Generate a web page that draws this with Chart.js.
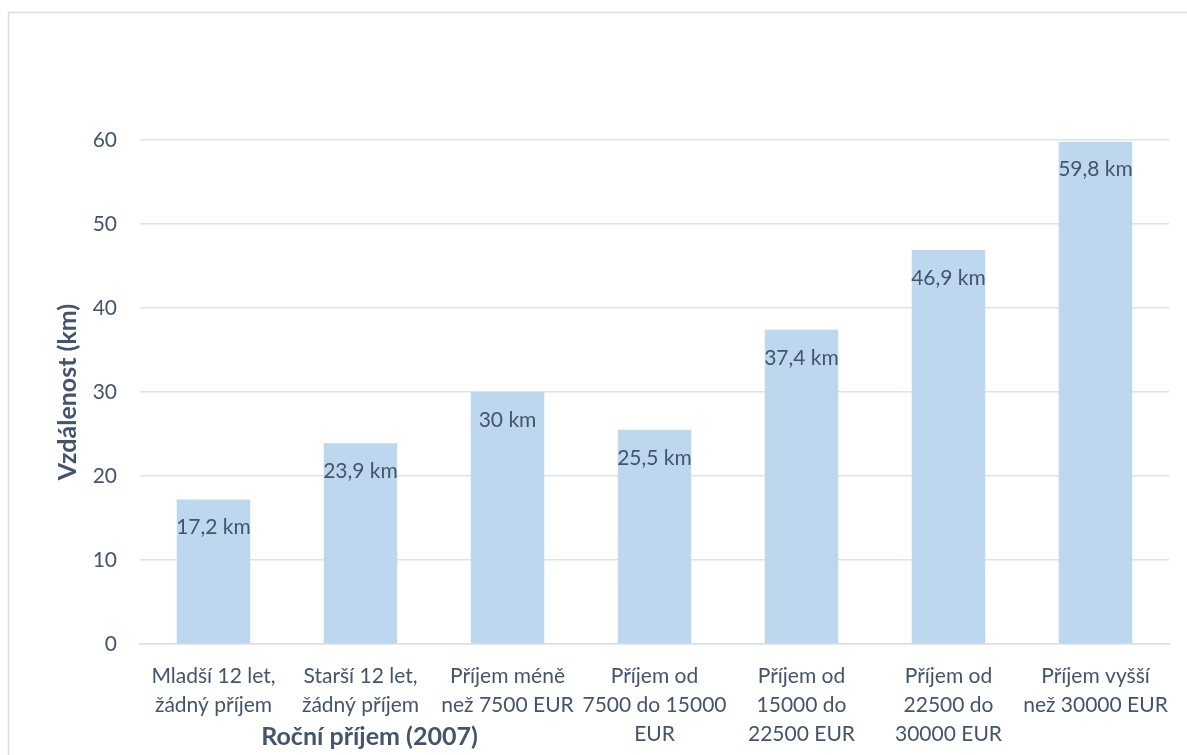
<!DOCTYPE html>
<html>
<head>
<meta charset="utf-8">
<script src="https://cdn.jsdelivr.net/npm/chart.js@4"></script>
<style>
  html, body { margin: 0; padding: 0; background: #fff; }
  canvas { display: block; }
</style>
</head>
<body>
<canvas id="chart" width="1187" height="755"></canvas>
<script>
const categories = [
    ['Mladší 12 let,', 'žádný příjem'],
    ['Starší 12 let,', 'žádný příjem'],
    ['Příjem méně', 'než 7500 EUR'],
    ['Příjem od', '7500 do 15000', 'EUR'],
    ['Příjem od', '15000 do', '22500 EUR'],
    ['Příjem od', '22500 do', '30000 EUR'],
    ['Příjem vyšší', 'než 30000 EUR']
];
const distances = [17.2, 23.9, 30, 25.5, 37.4, 46.9, 59.8];
const yTicks = [0, 10, 20, 30, 40, 50, 60];

const textColor = '#44546a';
const fontFamily = 'Lato, "Open Sans", sans-serif';

// frame around the whole chart
const framePlugin = {
    id: 'frame',
    beforeDraw(chart) {
        const c = chart.ctx;
        c.save();
        c.strokeStyle = '#d9dde3';
        c.lineWidth = 1.5;
        c.strokeRect(8.5, 12.5, 1400, 900);
        c.restore();
    }
};

// value labels inside the top of each bar + the x axis title
const labelsPlugin = {
    id: 'barLabels',
    afterDatasetsDraw(chart) {
        const c = chart.ctx;
        const meta = chart.getDatasetMeta(0);
        c.save();
        c.fillStyle = textColor;
        c.font = '21px ' + fontFamily;
        c.textAlign = 'center';
        c.textBaseline = 'middle';
        meta.data.forEach((bar, i) => {
            const txt = distances[i].toString().replace('.', ',') + ' km';
            c.fillText(txt, bar.x, bar.y + 28);
        });
        c.font = 'bold 25px ' + fontFamily;
        const x = chart.scales.x;
        c.fillText('Roční příjem (2007)', x.getPixelForValue(1) + 9, 737);
        c.restore();
    }
};

new Chart(document.getElementById('chart'), {
    type: 'bar',
    data: {
        labels: categories,
        datasets: [{
            data: distances,
            backgroundColor: '#bdd7ee',
            barPercentage: 0.5,
            categoryPercentage: 1.0
        }]
    },
    options: {
        responsive: false,
        animation: false,
        layout: { padding: { left: 48, right: 18, top: 140, bottom: 10 } },
        plugins: {
            legend: { display: false },
            tooltip: { enabled: false }
        },
        scales: {
            x: {
                grid: { display: false },
                border: { display: true, color: '#d9dde3', width: 1.5 },
                ticks: {
                    color: textColor,
                    font: { family: fontFamily, size: 21, lineHeight: 1.38 },
                    padding: 10,
                    maxRotation: 0,
                    autoSkip: false
                },
                afterFit(scale) { scale.height = 101; }
            },
            y: {
                min: 0,
                max: 60,
                afterBuildTicks(scale) { scale.ticks = yTicks.map(v => ({ value: v })); },
                grid: { color: '#dfe3e9', lineWidth: 1.5, drawTicks: false },
                border: { display: false },
                ticks: {
                    color: textColor,
                    font: { family: fontFamily, size: 21 },
                    padding: 23
                },
                title: {
                    display: true,
                    text: 'Vzdálenost (km)',
                    color: textColor,
                    font: { family: fontFamily, size: 25, weight: 'bold', lineHeight: 1.2 },
                    padding: { top: 5, bottom: 0 }
                },
                afterFit(scale) { scale.width = 92; }
            }
        }
    },
    plugins: [framePlugin, labelsPlugin]
});
</script>
</body>
</html>
